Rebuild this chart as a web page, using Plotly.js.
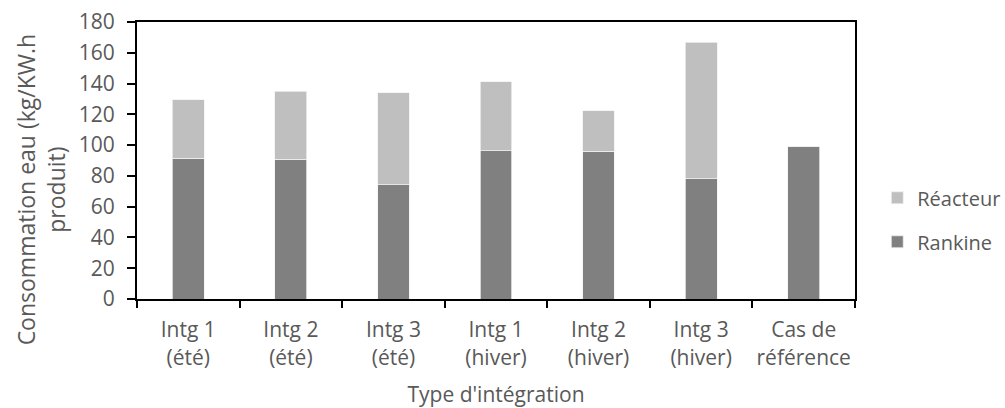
<!DOCTYPE html>
<html>
<head>
<meta charset="utf-8">
<script src="https://cdn.plot.ly/plotly-3.0.1.min.js"></script>
<style>html,body{margin:0;padding:0;background:#fff;}#chart{width:1005px;height:408px;}</style>
</head>
<body>
<div id="chart"></div>
<script>
const categories = ["Intg 1<br>(été)", "Intg 2<br>(été)", "Intg 3<br>(été)", "Intg 1<br>(hiver)", "Intg 2<br>(hiver)", "Intg 3<br>(hiver)", "Cas de<br>référence"];
const rankine = [91.5, 90.7, 74.4, 96.5, 96.1, 78.3, 99.4];
const reacteur = [38.1, 44.3, 59.5, 44.6, 26.1, 88.5, 0];
const yTicks = [0, 20, 40, 60, 80, 100, 120, 140, 160, 180];
const yTitle = "Consommation eau (kg/KW.h<br>produit)";
const xTitle = "Type d'intégration";

const font = {family: "Open Sans, sans-serif", size: 21, color: "#595959"};
const legendFont = {family: "Open Sans, sans-serif", size: 20, color: "#595959"};
const yTitleFont = {family: "Open Sans, sans-serif", size: 23, color: "#595959"};

const traces = [
  {type: "bar", name: "Rankine", legendgroup: "rankine", legendrank: 2, x: categories, y: rankine,
   marker: {color: "#808080", line: {color: "#f2f2f2", width: 0.75}}},
  {type: "bar", name: "Réacteur", legendgroup: "reacteur", legendrank: 1, x: categories, y: reacteur,
   marker: {color: "#bfbfbf", line: {color: "#f2f2f2", width: 0.75}}}
];

const layout = {
  width: 1005, height: 408,
  margin: {l: 137, r: 150, t: 22, b: 109, autoexpand: false},
  barmode: "stack",
  bargap: 0.69,
  font: font,
  paper_bgcolor: "#fff", plot_bgcolor: "#fff",
  showlegend: true,
  legend: {x: 1.031, xanchor: "left", y: 0.286, yanchor: "middle", traceorder: "grouped",
           font: legendFont, itemwidth: 30, tracegroupgap: 15},
  xaxis: {
    type: "category", showline: true, linecolor: "#000", linewidth: 2, mirror: true,
    ticks: "outside", tickson: "boundaries", ticklen: 7, tickwidth: 2, tickcolor: "#000",
    showgrid: false, tickfont: font, ticklabelstandoff: 11, tickangle: 0,
    title: {text: xTitle, font: font, standoff: 23}
  },
  yaxis: {
    range: [0, 180], tickvals: yTicks, showline: true, linecolor: "#000", linewidth: 2, mirror: true,
    ticks: "outside", ticklen: 8, tickwidth: 2, tickcolor: "#000", showgrid: false, zeroline: false,
    tickfont: font, ticklabelstandoff: 8
  },
  annotations: [
    {text: yTitle, textangle: -90, xref: "paper", yref: "paper", x: -0.134, y: 0.395,
     xanchor: "center", yanchor: "middle", showarrow: false, font: yTitleFont}
  ]
};

Plotly.newPlot("chart", traces, layout, {displayModeBar: false, staticPlot: true});
</script>
</body>
</html>
